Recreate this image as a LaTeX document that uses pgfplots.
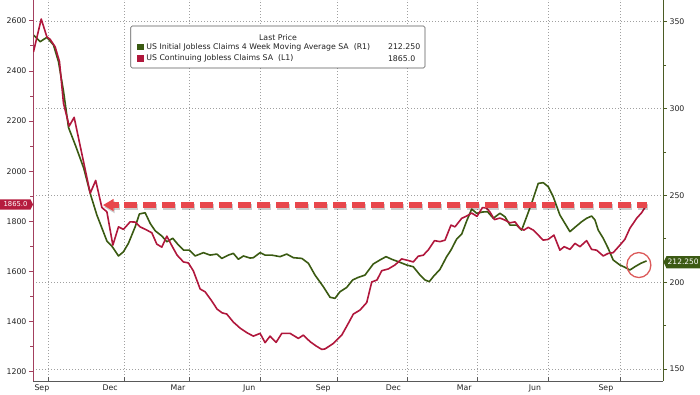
\documentclass[border=0pt]{standalone}
\usepackage{pgfplots}
\pgfplotsset{compat=1.18}
\usepackage{fontspec}
\setmainfont{DejaVu Sans}
\definecolor{cgreen}{HTML}{3A5A12}
\definecolor{cred}{HTML}{B0173C}
\definecolor{laxis}{HTML}{A3405E}
\definecolor{raxis}{HTML}{4B5B24}
\definecolor{dashc}{HTML}{E8474C}
\definecolor{ellc}{HTML}{DC5A5A}
\definecolor{gridc}{HTML}{A0A0A0}
\definecolor{tagred}{HTML}{B51C3E}
\definecolor{taggreen}{HTML}{3C5A14}
\definecolor{labc}{HTML}{222222}

\pgfplotstableread{
d v
-18.4 2476
-8.5 2607
-1.3 2536
2.9 2526
9.3 2496
14.8 2437
19.9 2271
27.2 2180
33.5 2215
54.0 1912
61.0 1963
68.9 1855
75.3 1838
82.9 1705
90.1 1778
96.4 1768
105.0 1798
111.4 1797
117.7 1778
126.3 1765
132.7 1754
139.0 1709
145.4 1697
151.8 1741
158.5 1701
164.9 1665
173.0 1638
179.3 1634
185.7 1602
194.3 1530
200.6 1519
208.3 1486
215.9 1450
222.3 1435
228.3 1430
236.7 1398
245.3 1374
253.8 1356
262.2 1342
270.8 1353
277.2 1316
283.5 1342
291.2 1317
298.5 1353
309.1 1353
319.6 1333
326.0 1346
334.6 1320
342.2 1303
349.5 1289
353.7 1291
364.3 1313
375.0 1346
383.4 1393
389.8 1430
398.3 1446
406.9 1476
413.3 1558
420.0 1566
426.0 1603
434.4 1610
443.0 1626
451.5 1650
459.6 1644
466.3 1638
472.7 1661
479.1 1665
485.7 1687
493.4 1723
500.4 1719
506.8 1725
514.4 1785
519.5 1778
528.1 1812
534.4 1821
540.8 1833
547.6 1820
554.6 1855
559.7 1853
564.2 1837
569.9 1807
576.9 1813
583.3 1805
589.7 1794
596.1 1798
602.4 1772
607.5 1765
613.0 1776
619.4 1765
625.8 1745
632.1 1725
638.5 1728
645.8 1745
653.4 1685
658.9 1699
666.2 1688
672.6 1712
679.0 1699
687.5 1723
693.9 1688
700.3 1685
708.7 1662
715.0 1672
721.4 1675
730.0 1705
736.3 1728
742.7 1772
751.3 1812
757.6 1834
764.0 1865
}\contclaims

\pgfplotstableread{
d v
-18.4 342.3
-9.8 338.5
-1.3 341.0
7.1 336.6
13.5 327.0
19.9 310.1
26.3 289.1
35.5 278.4
45.7 265.7
54.6 250.2
62.5 238.7
75.3 223.7
81.6 220.8
90.1 215.1
96.4 217.5
102.8 222.4
111.4 231.9
116.8 239.3
124.1 240.0
130.5 233.9
136.9 229.6
145.4 226.6
151.8 223.3
159.4 225.3
166.6 221.4
173.0 218.5
180.6 218.5
187.9 215.1
198.5 217.0
207.0 215.6
215.6 216.2
222.0 213.7
230.4 215.6
236.7 216.6
243.1 213.2
249.5 215.1
258.0 213.9
262.2 214.1
270.8 217.0
277.2 215.6
285.7 215.6
296.3 214.7
304.8 216.2
313.3 214.1
324.0 213.7
332.4 210.9
340.9 204.1
351.5 197.4
360.1 191.3
366.4 190.7
372.8 194.5
381.4 197.0
389.0 201.3
396.2 202.8
404.7 204.1
415.3 210.5
423.8 212.8
431.5 214.7
438.8 213.2
447.2 211.8
457.9 209.9
466.3 208.9
474.9 204.1
481.2 201.3
486.7 200.3
491.8 203.2
500.4 207.4
508.9 214.7
514.4 218.5
521.7 224.9
528.1 227.7
534.4 235.2
540.8 242.1
547.2 239.7
554.6 240.4
561.0 240.6
568.4 236.8
576.9 239.7
583.3 237.7
589.7 232.9
598.2 232.9
604.6 230.0
611.0 237.7
617.3 245.4
625.8 256.9
632.1 257.3
638.5 255.0
644.9 249.2
653.4 238.7
659.8 233.9
666.2 229.1
672.6 231.6
681.1 234.8
687.5 236.8
693.9 238.1
698.2 235.8
702.3 230.0
708.7 225.3
715.0 219.5
721.4 212.8
730.0 209.9
736.3 208.6
742.7 207.0
749.1 208.9
756.8 210.9
764.0 212.25
}\initclaims

\pgfplotsset{
  every tick label/.append style={font=\fontsize{7.8}{9}\selectfont, text=labc},
  /pgf/number format/assume math mode=true,
  /pgf/number format/1000 sep={},
}

\begin{document}
\begin{tikzpicture}[x=1pt,y=1pt]
\useasboundingbox (0,0) rectangle (700,394);

% right axis (initial claims), grids
\begin{axis}[
  at={(33pt,13pt)}, anchor=south west, scale only axis,
  width=630pt, height=381pt,
  xmin=-19, xmax=785, ymin=143.1, ymax=362.5,
  axis y line*=right, axis x line*=bottom,
  x axis line style={draw=none},
  xtick={0,97,180,271,369,459,548,639,730}, xticklabels={},
  major x tick style={draw=none},
  xmajorgrids, ymajorgrids,
  grid style={gridc, line width=0.6pt, dash pattern=on 0.8pt off 2.2pt},
  ytick={150,200,250,300,350}, minor ytick={175,225,275,325},
  scaled y ticks=false,
  y axis line style={raxis, line width=0.9pt},
  y tick style={raxis, line width=0.8pt},
  tick align=outside, major tick length=4pt, minor tick length=3pt,
  yticklabel style={xshift=-1pt},
]
\addplot[cgreen, line width=1.6pt, line join=round] table[x=d,y=v] {\initclaims};
\end{axis}

% left axis (continuing claims)
\begin{axis}[
  at={(33pt,13pt)}, anchor=south west, scale only axis,
  width=630pt, height=381pt,
  xmin=-19, xmax=785, ymin=1163, ymax=2683,
  axis y line*=left, axis x line*=bottom,
  x axis line style={black!65, line width=0.9pt},
  y axis line style={laxis, line width=0.9pt},
  y tick style={laxis, line width=0.8pt},
  xtick={0,97,180,271,369,459,548,639,730}, xticklabels={},
  minor x tick num=2,
  major x tick style={black!65, line width=0.7pt, yshift=4pt},
  minor x tick style={black!65, line width=0.7pt, yshift=3pt},
  tick align=outside, major tick length=4pt, minor tick length=3pt,
  extra x ticks={-7.7,79.5,166,257,351.5,440.8,531.4,621.6,712.1},
  extra x tick labels={Sep,Dec,Mar,Jun,Sep,Dec,Mar,Jun,Sep},
  extra x tick style={major tick length=0pt, grid=none},
  ytick={1200,1400,...,2600}, minor ytick={1300,1500,...,2500},
  scaled y ticks=false,
  yticklabel style={xshift=1pt},
]
\addplot[cred, line width=1.6pt, line join=round] table[x=d,y=v] {\contclaims};
% dashed arrow at last value (shadow first)
\begin{scope}[transform canvas={xshift=1pt,yshift=-2pt}]
\draw[black, opacity=0.2, line width=5.5pt, dash pattern=on 13pt off 6pt] (axis cs:97.4,1865) -- (axis cs:764,1865);
\fill[black, opacity=0.2] (axis cs:70.5,1865) -- (axis cs:84,1890) -- (axis cs:84,1840) -- cycle;
\draw[black, opacity=0.2, line width=5.5pt] (axis cs:83,1865) -- (axis cs:91,1865);
\end{scope}
\draw[dashc, line width=5.5pt, dash pattern=on 13pt off 6pt] (axis cs:97.4,1865) -- (axis cs:764,1865);
\fill[dashc] (axis cs:70.5,1865) -- (axis cs:84,1890) -- (axis cs:84,1840) -- cycle;
\draw[dashc, line width=5.5pt] (axis cs:83,1865) -- (axis cs:91,1865);
\draw[ellc, line width=1.3pt] (axis cs:754.2,1625.6) ellipse [x radius=12pt, y radius=12.5pt];
\end{axis}

% value tags
\fill[tagred] (0,184.3) -- (30.5,184.3) -- (33,189.5) -- (30.5,194.7) -- (0,194.7) -- cycle;
\node[white, inner sep=0pt, font=\fontsize{6.8}{8}\selectfont] at (15.5,189.5) {1865.0};
\fill[taggreen] (663.5,131.8) -- (666.5,138) -- (700,138) -- (700,125.7) -- (666.5,125.7) -- cycle;
\node[white, anchor=west, inner sep=0pt, font=\fontsize{7.5}{9}\selectfont] at (667.5,131.8) {212.250};

% legend
\draw[black!65, line width=0.6pt, fill=white, rounded corners=1.5pt] (130.7,326) rectangle (425,368);
\begin{scope}[every node/.style={inner sep=0pt, text=labc, font=\fontsize{7.8}{9}\selectfont}]
\node at (278,356.8) {Last Price};
\fill[cgreen] (137,343.6) rectangle (143.5,350.4);
\node[anchor=west] at (146.2,347) {US Initial Jobless Claims 4 Week Moving Average SA\ \ (R1)};
\node[anchor=east] at (420.5,347) {212.250};
\fill[cred] (137,331.9) rectangle (143.5,338.7);
\node[anchor=west] at (146.2,335.3) {US Continuing Jobless Claims SA\ \ (L1)};
\node[anchor=east] at (415.5,335.3) {1865.0};
\end{scope}
\end{tikzpicture}
\end{document}
